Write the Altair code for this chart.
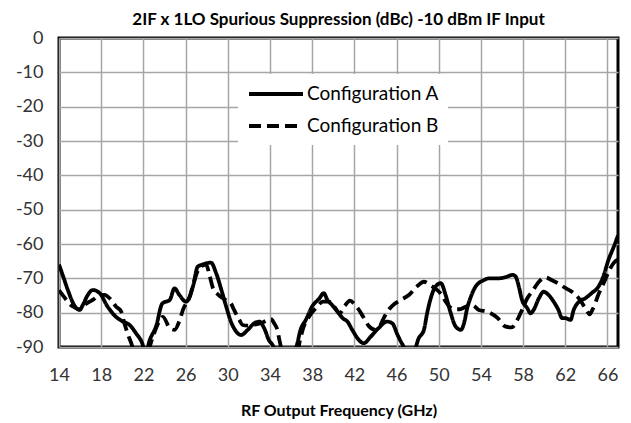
import altair as alt
import pandas as pd

series_names = ["Configuration A", "Configuration B"]
x_ticks = [14, 18, 22, 26, 30, 34, 38, 42, 46, 50, 54, 58, 62, 66]
y_ticks = [-90, -80, -70, -60, -50, -40, -30, -20, -10, 0]

freq_a = [14.0, 14.4, 14.85, 15.3, 15.65, 15.95, 16.3, 16.7, 17.2, 17.85, 18.6, 19.4, 20.0, 20.7,
          21.3, 21.9, 22.2, 22.6, 23.2, 23.8, 24.5, 24.95, 25.4, 26.05, 26.7, 27.15, 27.5, 28.0,
          28.4, 28.9, 29.4, 29.85, 30.3, 30.8, 31.25, 31.9, 32.5, 33.0, 33.45, 33.9, 34.25, 34.6,
          35.5, 36.2, 36.5, 36.9, 37.4, 38.0, 38.7, 39.1, 39.45, 39.9, 40.4, 40.9, 41.35, 41.8,
          42.45, 42.9, 43.55, 44.3, 45.1, 45.6, 46.1, 46.5, 47.0, 47.65, 48.1, 48.6, 48.9, 49.2,
          49.7, 50.2, 50.65, 51.1, 51.6, 52.1, 52.4, 52.7, 53.0, 53.5, 54.3, 54.75, 55.7, 56.3,
          57.0, 57.3, 57.6, 57.9, 58.4, 58.7, 59.0, 59.5, 59.95, 60.4, 60.9, 61.35, 61.7, 62.0,
          62.5, 62.8, 63.3, 63.9, 64.5, 65.15, 65.6, 66.1, 66.6, 67.0]
val_a = [-66.0, -69.5, -73.5, -77.0, -78.7, -79.2, -77.5, -75.0, -73.4, -74.3, -78.2, -81.2, -82.5, -83.6,
         -86.0, -89.0, -92.0, -88.0, -84.0, -77.3, -76.3, -72.9, -74.8, -76.8, -72.4, -66.6, -66.1, -65.6,
         -65.4, -68.5, -73.4, -78.2, -82.6, -85.5, -86.5, -85.0, -83.1, -82.6, -84.5, -88.0, -89.4, -91.5,
         -93.0, -91.5, -90.0, -85.0, -82.1, -78.2, -75.8, -74.3, -76.3, -77.8, -79.7, -81.6, -82.6, -85.0,
         -88.0, -88.9, -87.0, -84.5, -82.6, -83.1, -86.5, -88.9, -91.0, -91.0, -87.5, -85.0, -80.2, -76.3,
         -72.4, -71.4, -74.8, -79.7, -84.0, -85.0, -83.1, -78.7, -75.8, -72.4, -70.5, -70.0, -70.0, -69.7,
         -69.0, -69.5, -72.4, -76.3, -78.7, -80.2, -79.2, -75.8, -73.9, -74.8, -76.8, -79.2, -81.6, -81.6,
         -82.1, -79.2, -76.8, -75.8, -74.3, -72.4, -69.5, -64.6, -60.8, -57.5]

freq_b = [14.0, 14.5, 15.0, 15.5, 15.95, 16.4, 16.9, 17.2, 17.8, 18.3, 18.95, 19.4, 19.9, 20.2,
          20.5, 20.85, 21.2, 21.8, 22.4, 22.9, 23.4, 23.85, 24.5, 24.95, 25.45, 25.75, 26.4, 26.85,
          27.2, 27.6, 27.95, 28.3, 28.6, 29.0, 29.4, 29.9, 30.3, 30.6, 31.1, 31.4, 31.9, 32.5,
          33.15, 33.8, 34.1, 34.4, 34.7, 34.9, 35.2, 36.0, 36.6, 36.85, 37.25, 37.7, 38.5, 39.0,
          39.6, 40.1, 40.6, 41.1, 41.6, 42.0, 42.4, 42.8, 43.4, 44.0, 44.4, 44.8, 45.3, 45.8,
          46.4, 47.2, 47.9, 48.6, 49.2, 49.7, 50.2, 50.6, 51.0, 51.5, 52.0, 52.6, 53.2, 53.8,
          54.6, 55.6, 56.3, 56.9, 57.6, 57.9, 58.4, 58.85, 59.5, 60.1, 60.7, 61.3, 62.0, 62.8,
          63.4, 64.0, 64.3, 64.6, 65.2, 65.7, 66.2, 66.6, 67.0]
val_b = [-73.5, -75.5, -77.5, -78.5, -79.0, -77.8, -76.8, -76.3, -75.0, -74.8, -76.3, -78.2, -79.7, -83.1,
         -86.0, -88.9, -92.0, -93.0, -91.5, -87.0, -83.1, -81.2, -84.5, -85.0, -82.1, -79.2, -75.3, -70.5,
         -67.5, -66.3, -66.0, -69.5, -72.9, -74.5, -75.5, -76.5, -77.3, -79.2, -82.1, -83.6, -83.8, -83.5,
         -83.1, -82.1, -81.9, -83.1, -85.0, -88.0, -91.5, -93.0, -91.5, -88.0, -83.6, -81.2, -78.2, -76.8,
         -76.8, -78.2, -80.2, -78.0, -76.5, -77.5, -79.0, -81.0, -84.0, -85.0, -84.0, -81.5, -79.0, -77.5,
         -76.3, -74.8, -72.5, -71.0, -72.0, -73.0, -74.5, -76.5, -78.2, -79.0, -79.0, -78.2, -77.8, -79.2,
         -79.7, -81.6, -84.0, -84.3, -81.2, -79.2, -75.8, -73.9, -71.0, -69.7, -70.5, -71.4, -72.8, -74.3,
         -76.3, -79.2, -80.5, -79.0, -74.3, -71.0, -67.5, -65.5, -64.5]

df = pd.concat([
    pd.DataFrame({"freq": freq_a, "value": val_a, "config": series_names[0]}),
    pd.DataFrame({"freq": freq_b, "value": val_b, "config": series_names[1]}),
])

FONT = "Lato"

chart = alt.Chart(df).mark_line(
    color="black", strokeWidth=3.8, interpolate="monotone", clip=True
).encode(
    x=alt.X("freq:Q",
            scale=alt.Scale(domain=[14, 67], nice=False, zero=False),
            axis=alt.Axis(values=x_ticks, title="RF Output Frequency (GHz)",
                          titleFontSize=16, titleFontWeight="bold", titleFont=FONT,
                          titleColor="black", titlePadding=18, labelPadding=19,
                          labelFlush=False)),
    y=alt.Y("value:Q",
            scale=alt.Scale(domain=[-90, 0], nice=False, zero=False),
            axis=alt.Axis(values=y_ticks, title=None, labelPadding=16,
                          labelExpr="toString(datum.value)")),
    strokeDash=alt.StrokeDash(
        "config:N",
        scale=alt.Scale(domain=series_names, range=[[1, 0], [12, 6]]),
        legend=alt.Legend(
            title=None, orient="none", legendX=179, legendY=36,
            fillColor="white", padding=9,
            symbolType="M-1,0H5", symbolSize=324, symbolStrokeWidth=4,
            symbolStrokeColor="black", symbolFillColor="white",
            labelFont=FONT, labelFontSize=19, labelColor="black",
            labelOffset=38, rowPadding=11,
        ),
    ),
).properties(
    width=559, height=309,
    padding={"left": 51, "top": 30, "right": 5, "bottom": 76},
    autosize="none",
    title=alt.TitleParams(
        "2IF x 1LO Spurious Suppression (dBc) -10 dBm IF Input",
        font=FONT, fontSize=17, fontWeight="bold", color="black",
        anchor="middle", frame="group", offset=0,
    ),
).configure_axis(
    labelFont=FONT, labelFontSize=18, labelColor="#333333",
    ticks=False, domain=False,
    gridColor="#a6a6a6", gridWidth=1.5,
).configure_view(
    stroke="black", strokeWidth=3,
)

chart.save("out.html", embed_options={"renderer": "svg", "actions": False})
